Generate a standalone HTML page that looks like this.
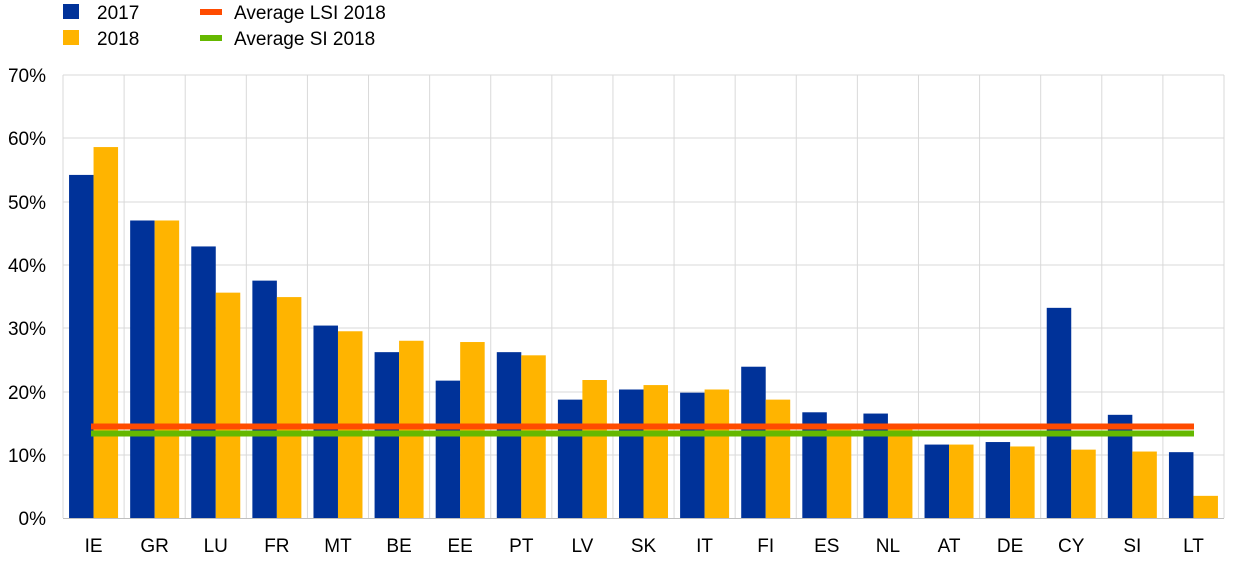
<!DOCTYPE html>
<html><head><style>body{margin:0;background:#fff}svg{display:block}text{font-family:"Liberation Sans",Arial,sans-serif;font-size:19px;fill:#000}</style></head>
<body>
<svg width="1240" height="563" xmlns="http://www.w3.org/2000/svg">
<g stroke="#d9d9d9" stroke-width="1">
<line x1="63" y1="75" x2="1224" y2="75"/><line x1="63" y1="138" x2="1224" y2="138"/><line x1="63" y1="202" x2="1224" y2="202"/><line x1="63" y1="265" x2="1224" y2="265"/><line x1="63" y1="328" x2="1224" y2="328"/><line x1="63" y1="392" x2="1224" y2="392"/><line x1="63" y1="455" x2="1224" y2="455"/>
<line x1="63" y1="75" x2="63" y2="518"/><line x1="1224" y1="75" x2="1224" y2="518"/>
</g>
<g id="vl" stroke="#d9d9d9"></g>
<g id="bars"></g>
<line x1="63" y1="518.5" x2="1224" y2="518.5" stroke="#bfbfbf"/>
<line x1="91" y1="426.5" x2="1194" y2="426.5" stroke="#FF4B00" stroke-width="6"/>
<line x1="91" y1="433.5" x2="1194" y2="433.5" stroke="#65B800" stroke-width="6"/>
<g text-anchor="end">
<text x="46" y="82">70%</text><text x="46" y="145">60%</text><text x="46" y="209">50%</text><text x="46" y="272">40%</text><text x="46" y="335">30%</text><text x="46" y="399">20%</text><text x="46" y="462">10%</text><text x="46" y="525">0%</text>
</g>
<g id="lbl" text-anchor="middle"></g>
<rect x="63" y="4" width="16" height="15" fill="#003299"/><text x="97" y="19">2017</text>
<rect x="63" y="30" width="16" height="15" fill="#FFB400"/><text x="97" y="45">2018</text>
<rect x="200" y="9" width="22" height="6" fill="#FF4B00"/><text x="234" y="19">Average LSI 2018</text>
<rect x="200" y="35" width="22" height="6" fill="#65B800"/><text x="234" y="45">Average SI 2018</text>
<script>
var c=["IE","GR","LU","FR","MT","BE","EE","PT","LV","SK","IT","FI","ES","NL","AT","DE","CY","SI","LT"];
var a=[54.2,47,42.9,37.5,30.4,26.2,21.7,26.2,18.7,20.3,19.8,23.9,16.7,16.5,11.6,12.0,33.2,16.3,10.4];
var b=[58.6,47,35.6,34.9,29.5,28.0,27.8,25.7,21.8,21.0,20.3,18.7,14.5,14.3,11.6,11.3,10.8,10.5,3.5];
var ns="http://www.w3.org/2000/svg",w=(1224-63)/19,g=document.getElementById("bars"),l=document.getElementById("lbl"),v=document.getElementById("vl");
function el(p,t,at){var e=document.createElementNS(ns,t);for(var k in at)e.setAttribute(k,at[k]);p.appendChild(e);return e;}
for(var i=0;i<19;i++){var cx=63+w*i+w/2;
if(i>0)el(v,"line",{x1:63+w*i,y1:75,x2:63+w*i,y2:518});
var ha=a[i]*6.33,hb=b[i]*6.33;
el(g,"rect",{x:cx-24.5,y:518-ha,width:24.5,height:ha,fill:"#003299"});
el(g,"rect",{x:cx,y:518-hb,width:24.5,height:hb,fill:"#FFB400"});
var t=el(l,"text",{x:cx,y:552});t.textContent=c[i];}
</script>
</svg>
</body></html>
